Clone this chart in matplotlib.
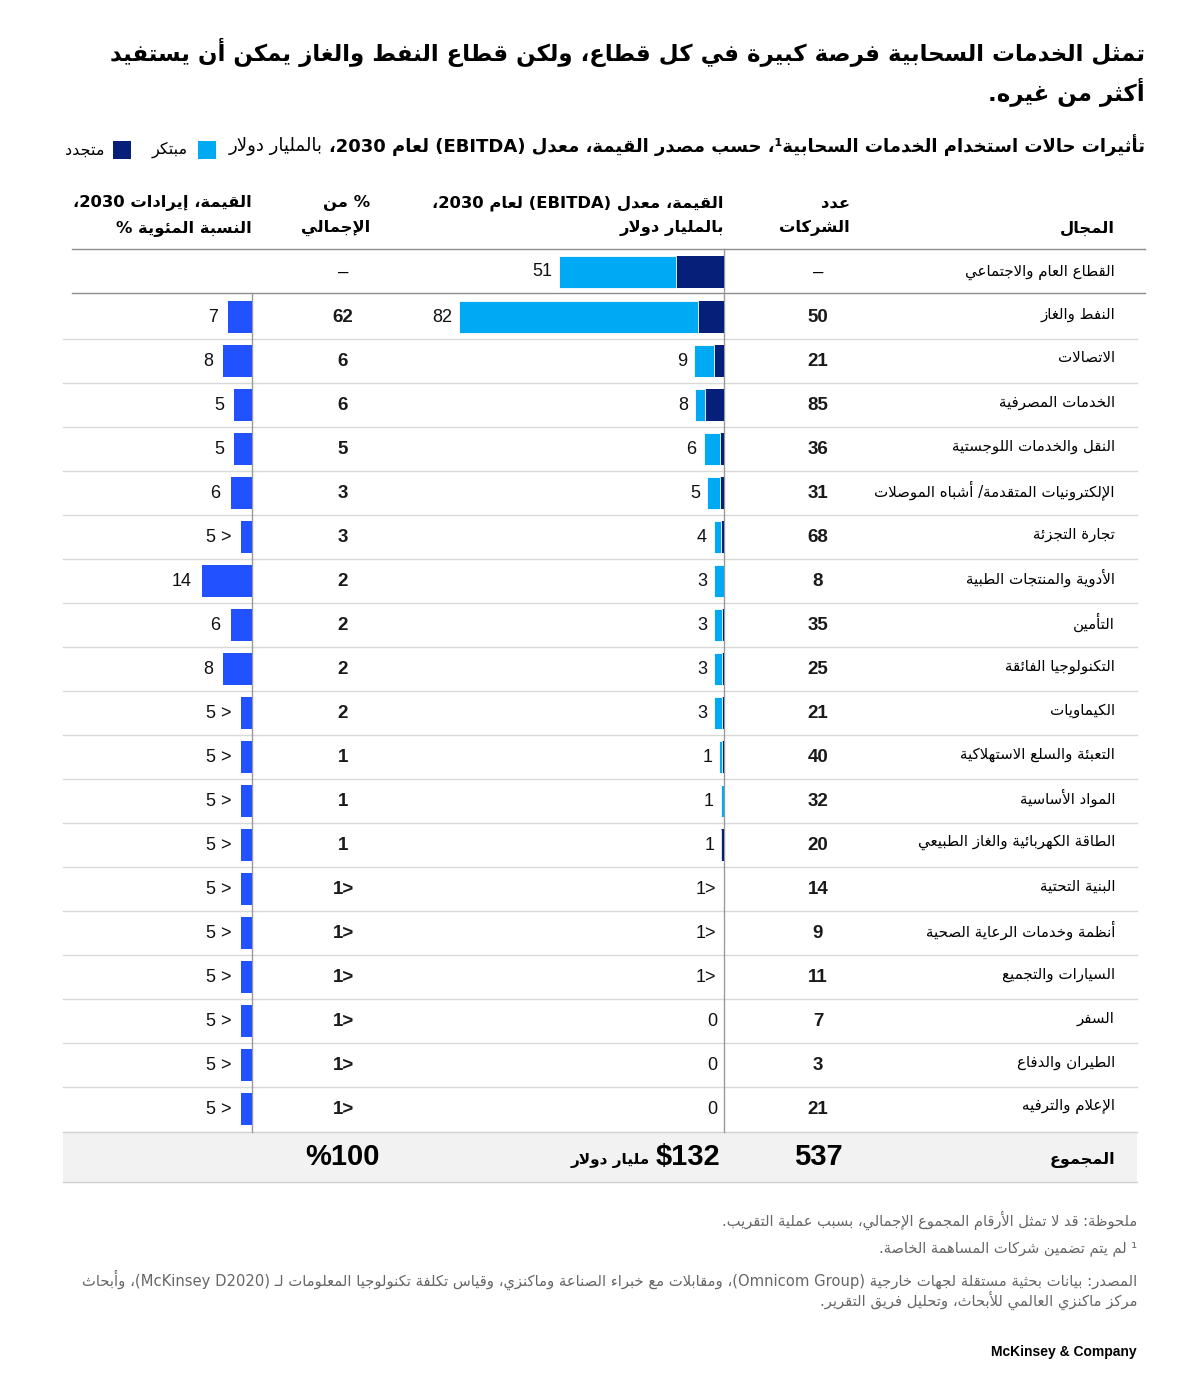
import matplotlib
matplotlib.use("Agg")
import matplotlib.pyplot as plt
from matplotlib.patches import Rectangle
from matplotlib.transforms import offset_copy

# ---- data ----
sectors = ["النفط والغاز", "الاتصالات", "الخدمات المصرفية", "النقل والخدمات اللوجستية",
           "الإلكترونيات المتقدمة/ أشباه الموصلات", "تجارة التجزئة", "الأدوية والمنتجات الطبية",
           "التأمين", "التكنولوجيا الفائقة", "الكيماويات", "التعبئة والسلع الاستهلاكية",
           "المواد الأساسية", "الطاقة الكهربائية والغاز الطبيعي", "البنية التحتية",
           "أنظمة وخدمات الرعاية الصحية", "السيارات والتجميع", "السفر", "الطيران والدفاع",
           "الإعلام والترفيه"]
companies = ["50", "21", "85", "36", "31", "68", "8", "35", "25", "21", "40", "32", "20",
             "14", "9", "11", "7", "3", "21"]
innovative = [74, 6.1, 2.9, 5.2, 4.1, 2.2, 3.1, 2.5, 2.5, 2.5, 0.8, 1.0, 0, 0.3, 0.3, 0.3, 0, 0, 0]
renewed = [7.9, 3.1, 6.0, 1.1, 1.1, 1.0, 0, 0.6, 0.6, 0.6, 0.6, 0, 0.85, 0, 0, 0, 0, 0, 0]
value_labels = ["82", "9", "8", "6", "5", "4", "3", "3", "3", "3", "1", "1", "1",
                "1>", "1>", "1>", "0", "0", "0"]
share_labels = ["62", "6", "6", "5", "3", "3", "2", "2", "2", "2", "1", "1", "1",
                "1>", "1>", "1>", "1>", "1>", "1>"]
revenue = [6.7, 8, 5, 5, 6, 3, 14, 6, 8, 3, 3, 3, 3, 3, 3, 3, 3, 3, 3]
revenue_labels = ["7", "8", "5", "5", "6", "5 >", "14", "6", "8", "5 >", "5 >", "5 >",
                  "5 >", "5 >", "5 >", "5 >", "5 >", "5 >", "5 >"]

public_name = "القطاع العام والاجتماعي"
public_innovative = 36
public_renewed = 15
public_label = "51"

total_companies = "537"
total_value = "$132"
total_share = "%100"

LIGHT = "#00A9F4"
DARK = "#061F79"
REV = "#2251FF"

# ---- minimal arabic shaping + bidi (no reshaper libs available) ----
_R = {'آ': 0xFE81, 'أ': 0xFE83, 'ؤ': 0xFE85, 'إ': 0xFE87, 'ا': 0xFE8D, 'ة': 0xFE93,
      'د': 0xFEA9, 'ذ': 0xFEAB, 'ر': 0xFEAD, 'ز': 0xFEAF, 'و': 0xFEED, 'ى': 0xFEEF}
_D = {'ئ': 0xFE89, 'ب': 0xFE8F, 'ت': 0xFE95, 'ث': 0xFE99, 'ج': 0xFE9D, 'ح': 0xFEA1,
      'خ': 0xFEA5, 'س': 0xFEB1, 'ش': 0xFEB5, 'ص': 0xFEB9, 'ض': 0xFEBD, 'ط': 0xFEC1,
      'ظ': 0xFEC5, 'ع': 0xFEC9, 'غ': 0xFECD, 'ف': 0xFED1, 'ق': 0xFED5, 'ك': 0xFED9,
      'ل': 0xFEDD, 'م': 0xFEE1, 'ن': 0xFEE5, 'ه': 0xFEE9, 'ي': 0xFEF1}
_LA = {'آ': 0xFEF5, 'أ': 0xFEF7, 'إ': 0xFEF9, 'ا': 0xFEFB}
TATWEEL = 'ـ'
MIRROR = {'(': ')', ')': '(', '<': '>', '>': '<', '[': ']', ']': '['}


def is_mark(c):
    return '\u064B' <= c <= '\u0652' or c == '\u0670'


def is_rtl(c):
    return '\u0600' <= c <= '\u06FF' or '\uFE70' <= c <= '\uFEFF'


def joins_next(c):
    return c in _D or c == TATWEEL


def joins_prev(c):
    return c in _D or c in _R or c == TATWEEL


def shape(s):
    # harakat don't render well with plain glyph layout, drop them
    s = ''.join(c for c in s if not is_mark(c))
    n = len(s)
    out = []
    skip = False
    for i, c in enumerate(s):
        if skip:
            skip = False
            continue
        if c not in _D and c not in _R:
            out.append(c)
            continue
        prev = s[i - 1] if i > 0 else ''
        nxt = s[i + 1] if i + 1 < n else ''
        jp = joins_next(prev) and joins_prev(c)
        if c == 'ل' and nxt in _LA:
            out.append(chr(_LA[nxt] + (1 if jp else 0)))
            skip = True
            continue
        jn = joins_next(c) and joins_prev(nxt)
        base = _D.get(c, _R.get(c))
        if c in _R:
            out.append(chr(base + (1 if jp else 0)))
        elif jp and jn:
            out.append(chr(base + 3))
        elif jp:
            out.append(chr(base + 1))
        elif jn:
            out.append(chr(base + 2))
        else:
            out.append(chr(base))
    return ''.join(out)


def bidi(s):
    if not any(is_rtl(c) for c in s):
        return s
    types = ['R' if is_rtl(c) else ('L' if c.isascii() and c.isalnum() else 'N') for c in s]
    n = len(s)
    res = types[:]
    i = 0
    while i < n:
        if types[i] == 'N':
            j = i
            while j < n and types[j] == 'N':
                j += 1
            before = types[i - 1] if i > 0 else 'R'
            after = types[j] if j < n else 'R'
            d = 'L' if before == 'L' and after == 'L' else 'R'
            for k in range(i, j):
                res[k] = d
            i = j
        else:
            i += 1
    runs = []
    for c, d in zip(s, res):
        if runs and runs[-1][0] == d:
            runs[-1][1].append(c)
        else:
            runs.append([d, [c]])
    out = []
    for d, chars in reversed(runs):
        if d == 'L':
            out.append(''.join(chars))
        else:
            out.append(''.join(MIRROR.get(c, c) for c in reversed(chars)))
    return ''.join(out)


def ar(s):
    return bidi(shape(s))


AR = ['DejaVu Sans']
NUM = ['Liberation Sans', 'DejaVu Sans']

# ---- figure ----
fig = plt.figure(figsize=(12, 13.94), dpi=100)
bg = fig.add_axes([0, 0, 1, 1])
bg.set_xlim(0, 1200)
bg.set_ylim(1394, 0)
bg.axis('off')

W, H = 1200.0, 1394.0

# row centres
row_y = [317 + 44 * i for i in range(len(sectors))]
public_y = 272


def txt(x, y, s, size, ha='right', weight='normal', color='black', family=AR, **kw):
    return bg.text(x, y, ar(s), fontsize=size, ha=ha, va='center', weight=weight,
                   color=color, family=family, **kw)


# title, first line squeezed to the reference width
t1 = txt(1145, 52, "تمثل الخدمات السحابية فرصة كبيرة في كل قطاع، ولكن قطاع النفط والغاز يمكن أن يستفيد",
         20, weight='bold')
fig.canvas.draw()
w1 = t1.get_window_extent().width
tsize = 20 * 1037.0 / w1
t1.set_fontsize(tsize)
txt(1145, 92, "أكثر من غيره.", tsize, weight='bold')

# subtitle
sub = txt(1145, 146, "تأثيرات حالات استخدام الخدمات السحابية¹، حسب مصدر القيمة، معدل (EBITDA) لعام 2030،",
          13, weight='bold')
fig.canvas.draw()
bb = sub.get_window_extent()
txt(bb.x0 - 6, 146, "بالمليار دولار", 13)

# legend
bg.add_patch(Rectangle((198, 141), 18, 18, fc=LIGHT, ec='none'))
txt(188, 150, "مُبتكر", 11.5)
bg.add_patch(Rectangle((113, 141), 18, 18, fc=DARK, ec='none'))
txt(105, 150, "مُتجدد", 11.5)

# column headers
HS = 11.8
txt(1115, 228, "المجال", HS, weight='bold')
txt(850, 203, "عدد", HS, weight='bold')
txt(850, 228, "الشركات", HS, weight='bold')
txt(724, 203, "القيمة، مُعدل (EBITDA) لعام 2030،", HS, weight='bold')
txt(724, 228, "بالمليار دولار", HS, weight='bold')
txt(370, 203, "% من", HS, weight='bold')
txt(370, 228, "الإجمالي", HS, weight='bold')
txt(252, 203, "القيمة، إيرادات 2030،", HS, weight='bold')
txt(252, 228, "النسبة المئوية %", HS, weight='bold')

# grid lines
bg.plot([72, 1145], [249, 249], color='#8c8c8c', lw=1)
bg.plot([72, 1145], [293, 293], color='#8c8c8c', lw=1)
for y0, y1 in zip(row_y[:-1], row_y[1:]):
    m = (y0 + y1) / 2
    bg.plot([63, 1137], [m, m], color='#d9d9d9', lw=1)

# total band
bg.add_patch(Rectangle((63, 1132), 1074, 50, fc='#f2f2f2', ec='none', zorder=0))
bg.plot([63, 1137], [1132, 1132], color='#d0d0d0', lw=1)
bg.plot([63, 1137], [1182, 1182], color='#d0d0d0', lw=1)

# vertical baselines
bg.plot([724, 724], [249, 1132], color='#9a9a9a', lw=1, zorder=5)
bg.plot([252, 252], [293, 1132], color='#9a9a9a', lw=1, zorder=5)

# row text
NS = 10.8
txt(1115, public_y, public_name, NS)
bg.text(818, public_y, "–", fontsize=13.5, ha='center', va='center', family=NUM)
bg.text(343, public_y, "–", fontsize=13.5, ha='center', va='center', family=NUM)
for y, name, cnt, sh in zip(row_y, sectors, companies, share_labels):
    txt(1115, y - 3, name, NS)
    bg.text(818, y, cnt, fontsize=13.5, ha='center', va='center', family=NUM, weight='bold',
            color='#1a1a1a')
    bg.text(343, y, sh, fontsize=13.5, ha='center', va='center', family=NUM, weight='bold',
            color='#1a1a1a')

# value bars (EBITDA, $bn), scale 3.23 px per unit, baseline at x=724
px_val = 3.23
span = 100
axv = fig.add_axes([(724 - span * px_val) / W, 0, span * px_val / W, 1])
axv.set_xlim(span, 0)
axv.set_ylim(1394, 0)
axv.axis('off')
axv.patch.set_alpha(0)
bar_h = 32
all_y = [public_y] + row_y
all_ren = [public_renewed] + renewed
all_inn = [public_innovative] + innovative
all_lab = [public_label] + value_labels
axv.barh(all_y, all_ren, height=bar_h, color=DARK, edgecolor='none')
axv.barh(all_y, all_inn, left=all_ren, height=bar_h, color=LIGHT, edgecolor='white', lw=0.6)
lab_tr = offset_copy(axv.transData, fig=fig, x=-7, y=0, units='dots')
for y, r, i, lab in zip(all_y, all_ren, all_inn, all_lab):
    axv.text(r + i, y, lab, transform=lab_tr, fontsize=13, ha='right', va='center',
             family=NUM, color='#111111')

# revenue share bars, scale 3.57 px per unit, baseline at x=252
px_rev = 3.57
rspan = 20
axr = fig.add_axes([(252 - rspan * px_rev) / W, 0, rspan * px_rev / W, 1])
axr.set_xlim(rspan, 0)
axr.set_ylim(1394, 0)
axr.axis('off')
axr.patch.set_alpha(0)
axr.barh(row_y, revenue, height=bar_h, color=REV, edgecolor='none')
rev_tr = offset_copy(axr.transData, fig=fig, x=-10, y=0, units='dots')
for y, v, lab in zip(row_y, revenue, revenue_labels):
    axr.text(v, y, lab, transform=rev_tr, fontsize=13, ha='right', va='center',
             family=NUM, color='#111111')

# totals
txt(1115, 1160, "المجموع", 11.5, weight='bold')
bg.text(818, 1157, total_companies, fontsize=21, ha='center', va='center', family=NUM,
        weight='bold')
tv = bg.text(720, 1157, total_value, fontsize=21, ha='right', va='center', family=NUM,
             weight='bold')
fig.canvas.draw()
tb = tv.get_window_extent()
txt(tb.x0 - 6, 1160, "مليار دولار", 11, weight='bold')
bg.text(343, 1157, total_share, fontsize=21, ha='center', va='center', family=NUM,
        weight='bold')

# notes
NOTE = '#666666'
txt(1137, 1220, "ملحوظة: قد لا تمثل الأرقام المجموع الإجمالي، بسبب عملية التقريب.", 10.5, color=NOTE)
txt(1137, 1249, "¹ لم يتم تضمين شركات المساهمة الخاصة.", 10.5, color=NOTE)
txt(1137, 1280, "المصدر: بيانات بحثية مستقلة لجهات خارجية (Omnicom Group)، ومقابلات مع خبراء الصناعة وماكنزي، وقياس تكلفة تكنولوجيا المعلومات لـ (McKinsey D2020)، وأبحاث",
    10.6, color=NOTE)
txt(1137, 1300, "مركز ماكنزي العالمي للأبحاث، وتحليل فريق التقرير.", 10.6, color=NOTE)

bg.text(1137, 1352, "McKinsey & Company", fontsize=10, ha='right', va='center',
        family=NUM, weight='bold')

fig.savefig("out.png", dpi=100)
